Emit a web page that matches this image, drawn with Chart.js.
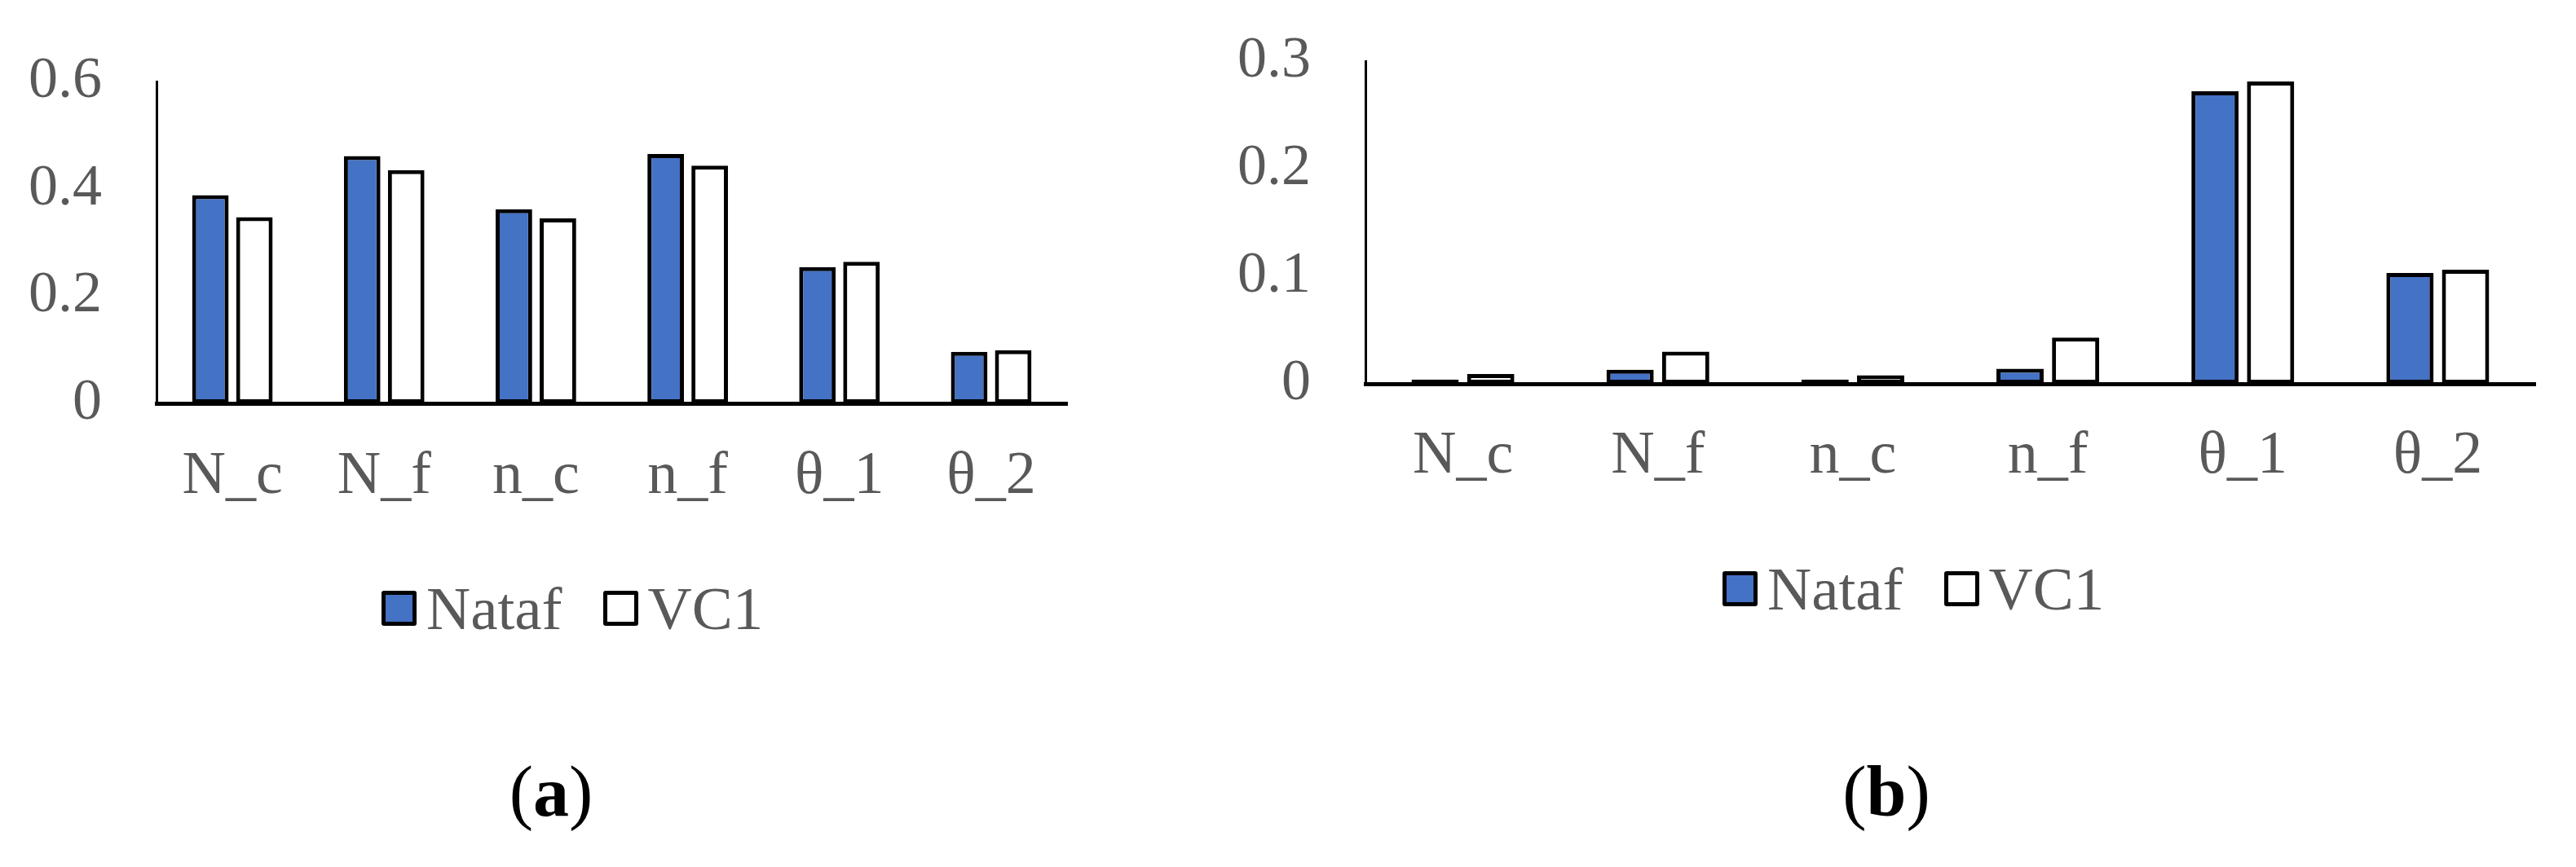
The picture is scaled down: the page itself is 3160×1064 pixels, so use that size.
<!DOCTYPE html>
<html>
<head>
<meta charset="utf-8">
<script src="https://cdn.jsdelivr.net/npm/chart.js@4.4.1/dist/chart.umd.min.js"></script>
<style>
  html, body { margin: 0; padding: 0; background: #fff; }
  body { width: 3160px; height: 1064px; position: relative; overflow: hidden; font-family: "Liberation Serif", "Times New Roman", serif; }
  canvas { position: absolute; top: 0; }
  .legend { position: absolute; display: flex; align-items: center; height: 86px; color: #595959; font-size: 75px; line-height: 1; white-space: nowrap; }
  .legend .item { display: flex; align-items: center; margin-right: 50px; }
  .legend .box { width: 43px; height: 43px; box-sizing: border-box; border: 5px solid #000; border-radius: 3px; margin-right: 12px; }
  .caption { position: absolute; top: 928px; font-size: 88px; line-height: 88px; transform: translateX(-50%); white-space: nowrap; color: #000; }
</style>
</head>
<body>
<canvas id="chartA" width="1400" height="680" style="left:0;width:1400px;height:680px"></canvas>
<canvas id="chartB" width="1740" height="680" style="left:1420px;width:1740px;height:680px"></canvas>
<div class="legend" id="legendA" style="left:468px;top:703px"></div>
<div class="legend" id="legendB" style="left:2113px;top:679px"></div>
<div class="caption" style="left:676px">(<b>a</b>)</div>
<div class="caption" style="left:2314px">(<b>b</b>)</div>

<script>
// values
const categories = ['N_c', 'N_f', 'n_c', 'n_f', 'θ_1', 'θ_2'];
const seriesNames = ['Nataf', 'VC1'];

const natafA = [0.388, 0.461, 0.362, 0.465, 0.254, 0.096];
const vc1A   = [0.347, 0.435, 0.345, 0.443, 0.264, 0.099];
const yTicksA = [0, 0.2, 0.4, 0.6];

const natafB = [0.004, 0.013, 0.004, 0.014, 0.272, 0.103];
const vc1B   = [0.009, 0.030, 0.008, 0.043, 0.281, 0.106];
const yTicksB = [0, 0.1, 0.2, 0.3];

const FONT = '"Liberation Serif", "Times New Roman", serif';
const GREY = '#595959';
const BLUE = '#4472C4';

function makeChart(id, natafVals, vc1Vals, yTicks, o) {
  const common = { borderColor: '#000', borderWidth: 5, borderSkipped: false,
                   barPercentage: o.barPct, categoryPercentage: o.catPct };
  return new Chart(document.getElementById(id), {
    type: 'bar',
    data: {
      labels: categories,
      datasets: [
        Object.assign({ label: seriesNames[0], data: natafVals, backgroundColor: BLUE }, common),
        Object.assign({ label: seriesNames[1], data: vc1Vals, backgroundColor: '#fff' }, common)
      ]
    },
    options: {
      responsive: false,
      animation: false,
      layout: { padding: { top: o.top, right: o.right, left: 0, bottom: 0 } },
      plugins: { legend: { display: false }, tooltip: { enabled: false } },
      scales: {
        x: {
          grid: { display: false, drawTicks: false },
          border: { display: true, color: '#000', width: 5 },
          ticks: { font: { family: FONT, size: 74 }, color: GREY, padding: o.xPad, maxRotation: 0, autoSkip: false },
          afterFit: s => { s.height = o.xH; s.paddingLeft = 0; s.paddingRight = 0; }
        },
        y: {
          min: 0, max: yTicks[yTicks.length - 1],
          grid: { display: false, drawTicks: false },
          border: { display: true, color: '#000', width: 3 },
          ticks: { font: { family: FONT, size: 72 }, color: GREY, padding: 67, callback: v => String(v) },
          afterBuildTicks: s => { s.ticks = yTicks.map(v => ({ value: v })); },
          // fixed axis width; drop the label overflow padding so the plot top sits where the layout padding says
          afterFit: s => { s.width = o.yW; s.paddingTop = 0; s.paddingBottom = 0; }
        }
      }
    }
  });
}

// small html legend built from the chart's datasets (tight box/text gap like the original)
function buildLegend(chart, elId) {
  const el = document.getElementById(elId);
  chart.data.datasets.forEach(ds => {
    const item = document.createElement('div');
    item.className = 'item';
    const box = document.createElement('span');
    box.className = 'box';
    box.style.background = ds.backgroundColor;
    const txt = document.createElement('span');
    txt.textContent = ds.label;
    item.appendChild(box);
    item.appendChild(txt);
    el.appendChild(item);
  });
}

const chartA = makeChart('chartA', natafA, vc1A, yTicksA,
  { top: 100, right: 91, yW: 192, xH: 185, xPad: 46, catPct: 0.58, barPct: 0.83 });
const chartB = makeChart('chartB', natafB, vc1B, yTicksB,
  { top: 75, right: 50, yW: 255, xH: 209, xPad: 45, catPct: 0.57, barPct: 0.85 });

buildLegend(chartA, 'legendA');
buildLegend(chartB, 'legendB');
</script>
</body>
</html>
